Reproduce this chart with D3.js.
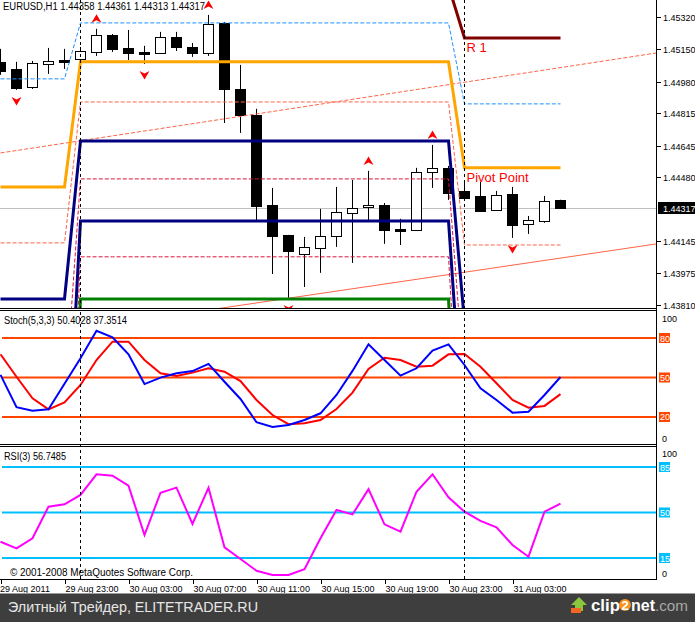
<!DOCTYPE html>
<html><head><meta charset="utf-8">
<script src="https://cdn.jsdelivr.net/npm/d3@7/dist/d3.min.js"></script>
<style>
body{margin:0;background:#fff;}
svg{display:block;}
text{font-family:"Liberation Sans",Arial,sans-serif;}
</style>
</head><body>
<svg id="c" width="695" height="622"></svg>
<script>
// ---------------- DATA ----------------
const symbolTitle = "EURUSD,H1";
const lastQuote = ["1.44358","1.44361","1.44313","1.44317"];
const open  = [1.45083,1.45046,1.44952,1.45072,1.45093,1.45099,1.45135,1.45224,1.45156,1.45135,1.45130,1.45214,1.45161,1.45130,1.45287,1.44941,1.44805,1.44334,1.44177,1.44077,1.44109,1.44171,1.44292,1.44323,1.44334,1.44208,1.44203,1.44507,1.44528,1.44407,1.44381,1.44308,1.44391,1.44234,1.44250,1.44358];
const high  = [1.45151,1.45083,1.45088,1.45156,1.45151,1.45161,1.45256,1.45229,1.45250,1.45167,1.45240,1.45240,1.45182,1.45329,1.45292,1.45067,1.44837,1.44423,1.44177,1.44166,1.44313,1.44428,1.44465,1.44512,1.44344,1.44261,1.44528,1.44648,1.44538,1.44454,1.44454,1.44407,1.44428,1.44276,1.44381,1.44361];
const low   = [1.45015,1.44936,1.44941,1.45020,1.45046,1.45078,1.45114,1.45135,1.45093,1.45072,1.45125,1.45140,1.45109,1.45114,1.44763,1.44711,1.44255,1.43972,1.43847,1.43904,1.43978,1.44114,1.44030,1.44255,1.44130,1.44124,1.44203,1.44423,1.44360,1.44360,1.44302,1.44308,1.44161,1.44182,1.44240,1.44313];
const close = [1.45036,1.44947,1.45078,1.45088,1.45083,1.45140,1.45224,1.45151,1.45130,1.45125,1.45214,1.45161,1.45130,1.45282,1.44941,1.44805,1.44329,1.44171,1.44093,1.44114,1.44171,1.44297,1.44318,1.44334,1.44203,1.44198,1.44507,1.44528,1.44397,1.44370,1.44302,1.44386,1.44229,1.44255,1.44355,1.44317];

const stochK = [52,27.4,24.8,25.8,45.3,64.6,85.5,80.5,67.6,45,49.9,53.2,54.9,60.3,46.8,33.7,16,12.4,13.9,17.7,22.8,36.7,55,75.2,63.3,51.4,57,70.4,75.2,59.5,41.8,32.9,23.3,24,36.7,50.4028];
const stochD = [67.6,50.6,34.2,25.8,31.1,44.3,63.3,77.2,77.2,63.3,53.2,51.1,53.7,57,54.4,47.3,32.9,21.5,14.5,15.2,17.7,26.1,38.5,56.5,65,63.3,58.2,59,67.6,67.8,58.2,45.6,32.9,27.1,28.4,37.3514];
const rsi    = [27.5,22.4,30.2,54.5,56.3,63.5,79.4,78.3,70.6,32.7,65.2,69.1,41.2,69.1,23.2,14.2,5.2,1.9,1.9,6.3,30.2,51.9,48.5,68,40.9,35.2,66,79.4,61.7,50.6,43.5,38.6,25,16,50.6,56.7485];

const stochLevels = [80,50,20];
const rsiLevels = [85,50,15];

const tickBars   = [0,4,8,12,16,20,24,28,32];
const tickLabels = ["29 Aug 2011","29 Aug 23:00","30 Aug 03:00","30 Aug 07:00","30 Aug 11:00","30 Aug 15:00","30 Aug 19:00","30 Aug 23:00","31 Aug 03:00"];
const dayStarts  = [0,5,29];           // first bar of 29, 30, 31 Aug
const priceTicks = [1.45320,1.45150,1.44980,1.44815,1.44645,1.44480,1.44145,1.43975,1.43810];

// daily pivot levels (29 Aug, 30 Aug, 31 Aug)
const pivotP  = [1.44428,1.45083,1.44528];
const pivotR1 = [1.45560,1.45481,1.45208];
const pivotS1 = [1.43841,1.44669,1.43720];
const pivotS2 = [1.42700,1.44250,1.43040];
const pivotS3 = [1.41700,1.43841,1.42240];
const midPR1  = [1.44994,1.45287,1.44863];
const midPS1  = [1.44135,1.44873,1.44124];
const midS1S2 = [1.43270,1.44470,1.43380];
const midS2S3 = [1.42200,1.44062,1.42640];

const upFractals   = [6,13,23,27];
const downFractals = [1,9,18,32];

const trendUpper = [[0,1.44606],[41.03,1.45130]];
const trendLower = [[14.34,1.43800],[41.03,1.44130]];

// ---------------- LAYOUT ----------------
const svg = d3.select("#c");
const axisX = 656.5;
const x = d3.scaleLinear().domain([0,41]).range([0.5,656.5]);
const yMain = d3.scaleLinear().domain([1.43794,1.45407]).range([308,0]);
const ySto = d3.scaleLinear().domain([0,100]).range([443.3,311.7]);
const yRsi = d3.scaleLinear().domain([0,100]).range([577.5,447.5]);
const bars = d3.range(close.length);
const dayOf = i => i >= dayStarts[2] ? 2 : (i >= dayStarts[1] ? 1 : 0);

const defs = svg.append("defs");
function clip(id,y0,y1){defs.append("clipPath").attr("id",id).append("rect").attr("x",0).attr("y",y0).attr("width",656).attr("height",y1-y0);}
clip("cm",0,308); clip("cs",311,444); clip("cr",447,579);

svg.append("rect").attr("width",695).attr("height",622).attr("fill","#fff");

// ---------------- MAIN PANEL ----------------
const gm = svg.append("g").attr("clip-path","url(#cm)");

// bid line
gm.append("line").attr("x1",0).attr("x2",656).attr("y1",Math.round(yMain(close[35]))+0.5).attr("y2",Math.round(yMain(close[35]))+0.5)
  .attr("stroke","#c0c0c0");

// candles
bars.forEach(i=>{
  const cx = Math.round(x(i)-0.5)+0.5;
  const bull = close[i] >= open[i];
  gm.append("line").attr("x1",cx).attr("x2",cx).attr("y1",yMain(high[i])).attr("y2",yMain(low[i])).attr("stroke","#000");
  const yt = Math.round(yMain(Math.max(open[i],close[i])));
  const yb = Math.round(yMain(Math.min(open[i],close[i])));
  gm.append("rect").attr("x",cx-5).attr("y",yt+0.5).attr("width",10).attr("height",Math.max(1,yb-yt))
    .attr("fill",bull?"#fff":"#000").attr("stroke","#000");
});

// trend lines
const tl = d3.line().x(d=>x(d[0])).y(d=>yMain(d[1]));
function extend(t){ // extend to full width
  const s=(t[1][1]-t[0][1])/(t[1][0]-t[0][0]);
  return [[0,t[0][1]-s*t[0][0]],[41.03,t[0][1]+s*(41.03-t[0][0])]];
}
gm.append("path").attr("d",tl(extend(trendUpper))).attr("fill","none").attr("stroke","#ff6347").attr("stroke-dasharray","4,2");
gm.append("path").attr("d",tl(extend(trendLower))).attr("fill","none").attr("stroke","#ff6347");

// pivot lines
const pl = d3.line().x(i=>x(i));
function pivotLine(levels,color,width,dash){
  const p = gm.append("path")
    .attr("d", pl.y(i=>yMain(levels[dayOf(i)]))(bars))
    .attr("fill","none").attr("stroke",color).attr("stroke-width",width);
  if(dash) p.attr("stroke-dasharray",dash);
}
pivotLine(midS2S3,"#dc143c",1,"4,2");
pivotLine(midS1S2,"#dc143c",1,"4,2");
pivotLine(midPS1,"#ff6347",1,"4,2");
pivotLine(midPR1,"#1e90ff",1,"4,2");
pivotLine(pivotS3,"#008000",3);
pivotLine(pivotS2,"#000080",3);
pivotLine(pivotS1,"#000080",3);
pivotLine(pivotP,"#ffa500",3);
pivotLine(pivotR1,"#800000",3);

gm.append("text").attr("x",x(dayStarts[2])+2).attr("y",yMain(pivotR1[2])+14).attr("fill","#ff0000").attr("font-size",13).text("R 1");
gm.append("text").attr("x",x(dayStarts[2])+2).attr("y",yMain(pivotP[2])+14).attr("fill","#ff0000").attr("font-size",13).text("Pivot Point");

// fractals
upFractals.forEach(i=>{
  gm.append("path").attr("transform",`translate(${x(i)},${yMain(high[i])-10})`)
    .attr("d","M0,-4.5 L5,4 L0,1.5 L-5,4 Z").attr("fill","#ff0000");
});
downFractals.forEach(i=>{
  gm.append("path").attr("transform",`translate(${x(i)},${yMain(low[i])+11})`)
    .attr("d","M0,4.5 L5,-4 L0,-1.5 L-5,-4 Z").attr("fill","#ff0000");
});

// header
svg.append("text").attr("x",3).attr("y",10).attr("font-size",10).attr("fill","#000")
  .attr("textLength",202).attr("lengthAdjust","spacingAndGlyphs")
  .text(symbolTitle+"  "+lastQuote.join(" "));

// price axis
priceTicks.forEach(p=>{
  const yy = Math.round(yMain(p))+0.5;
  svg.append("line").attr("x1",657).attr("x2",661).attr("y1",yy).attr("y2",yy).attr("stroke","#000");
  svg.append("text").attr("x",663).attr("y",yy+3.5).attr("font-size",9).attr("fill","#000").text(p.toFixed(5));
});
const yb = Math.round(yMain(close[35]));
svg.append("rect").attr("x",658).attr("y",yb-6).attr("width",37).attr("height",12).attr("fill","#000");
svg.append("text").attr("x",663).attr("y",yb+3.5).attr("font-size",9).attr("fill","#fff").text(close[35].toFixed(5));

// ---------------- STOCHASTIC ----------------
const gs = svg.append("g").attr("clip-path","url(#cs)");
stochLevels.forEach(l=>{
  gs.append("line").attr("x1",2).attr("x2",656).attr("y1",ySto(l)).attr("y2",ySto(l)).attr("stroke","#ff4500").attr("stroke-width",2);
});
gs.append("path").attr("d",d3.line().x((d,i)=>x(i)).y(d=>ySto(d))(stochD)).attr("fill","none").attr("stroke","#ff0000").attr("stroke-width",2);
gs.append("path").attr("d",d3.line().x((d,i)=>x(i)).y(d=>ySto(d))(stochK)).attr("fill","none").attr("stroke","#0000ff").attr("stroke-width",2);
svg.append("text").attr("x",4).attr("y",324).attr("font-size",10).attr("textLength",123).attr("lengthAdjust","spacingAndGlyphs")
  .text(`Stoch(5,3,3) ${stochK[35].toFixed(4)} ${stochD[35].toFixed(4)}`);
svg.append("text").attr("x",662).attr("y",322).attr("font-size",9).text("100");
svg.append("text").attr("x",662).attr("y",442).attr("font-size",9).text("0");
stochLevels.forEach(l=>{
  const yy=ySto(l);
  svg.append("rect").attr("x",659).attr("y",yy-5).attr("width",11).attr("height",10).attr("fill","#ff4500");
  svg.append("text").attr("x",660).attr("y",yy+3.5).attr("font-size",9).attr("fill","#fff").text(l);
});

// ---------------- RSI ----------------
const gr = svg.append("g").attr("clip-path","url(#cr)");
rsiLevels.forEach(l=>{
  gr.append("line").attr("x1",2).attr("x2",656).attr("y1",yRsi(l)).attr("y2",yRsi(l)).attr("stroke","#00bfff").attr("stroke-width",2);
});
gr.append("path").attr("d",d3.line().x((d,i)=>x(i)).y(d=>yRsi(d))(rsi)).attr("fill","none").attr("stroke","#ff00ff").attr("stroke-width",2);
svg.append("text").attr("x",4).attr("y",460).attr("font-size",10).attr("textLength",62).attr("lengthAdjust","spacingAndGlyphs")
  .text(`RSI(3) ${rsi[35].toFixed(4)}`);
svg.append("text").attr("x",10).attr("y",576).attr("font-size",10).attr("textLength",183).attr("lengthAdjust","spacingAndGlyphs")
  .text("© 2001-2008 MetaQuotes Software Corp.");
svg.append("text").attr("x",662).attr("y",457).attr("font-size",9).text("100");
svg.append("text").attr("x",662).attr("y",577).attr("font-size",9).text("0");
rsiLevels.forEach(l=>{
  const yy=yRsi(l);
  svg.append("rect").attr("x",659).attr("y",yy-5).attr("width",11).attr("height",10).attr("fill","#00bfff");
  svg.append("text").attr("x",660).attr("y",yy+3.5).attr("font-size",9).attr("fill","#fff").text(l);
});

// ---------------- FRAMES ----------------
[308.5,310.5,444.5,446.5,579.5].forEach(yy=>{
  svg.append("line").attr("x1",0).attr("x2",657).attr("y1",yy).attr("y2",yy).attr("stroke","#000");
});
svg.append("line").attr("x1",axisX).attr("x2",axisX).attr("y1",0).attr("y2",580).attr("stroke","#000");

// day separators
dayStarts.slice(1).forEach(b=>{
  const xx = Math.round(x(b)-0.5)+0.5;
  svg.append("line").attr("x1",xx).attr("x2",xx).attr("y1",0).attr("y2",579).attr("stroke","#000").attr("stroke-dasharray","3,3");
});

// time axis
tickBars.forEach((b,k)=>{
  const xx = Math.round(x(b)-0.5)+1.5;
  svg.append("line").attr("x1",xx).attr("x2",xx).attr("y1",580).attr("y2",584).attr("stroke","#000");
  svg.append("text").attr("x",k===0?0:xx).attr("y",592).attr("font-size",9).text(tickLabels[k]);
});

// ---------------- FOOTER ----------------
svg.append("rect").attr("x",0).attr("y",593).attr("width",695).attr("height",1).attr("fill","#9a9a9a");
svg.append("rect").attr("x",0).attr("y",594).attr("width",695).attr("height",28).attr("fill","#3e3e3e");
svg.append("text").attr("x",8).attr("y",612).attr("font-size",14).attr("fill","#e6e6e6").attr("textLength",250).attr("lengthAdjust","spacingAndGlyphs")
  .text("Элитный Трейдер, ELITETRADER.RU");
const lg = svg.append("g");
lg.append("path").attr("d","M579,597 L587,605 L583,605 L583,611 L575,611 L575,605 L571,605 Z").attr("fill","#8cc63f");
lg.append("rect").attr("x",571).attr("y",608).attr("width",10).attr("height",5).attr("fill","#f26522");
lg.append("text").attr("x",591).attr("y",611).attr("font-size",17).attr("font-weight","bold").attr("fill","#fff").attr("textLength",29).attr("lengthAdjust","spacingAndGlyphs").text("clip");
lg.append("circle").attr("cx",625).attr("cy",605).attr("r",6).attr("fill","#f7941d");
lg.append("text").attr("x",625).attr("y",610).attr("text-anchor","middle").attr("font-size",13).attr("font-weight","bold").attr("fill","#fff").text("2");
lg.append("text").attr("x",631).attr("y",611).attr("font-size",17).attr("font-weight","bold").attr("fill","#fff").attr("textLength",24).attr("lengthAdjust","spacingAndGlyphs").text("net");
lg.append("text").attr("x",655).attr("y",611).attr("font-size",15).attr("fill","#a8a8a8").attr("textLength",33).attr("lengthAdjust","spacingAndGlyphs").text(".com");
</script>
</body></html>
